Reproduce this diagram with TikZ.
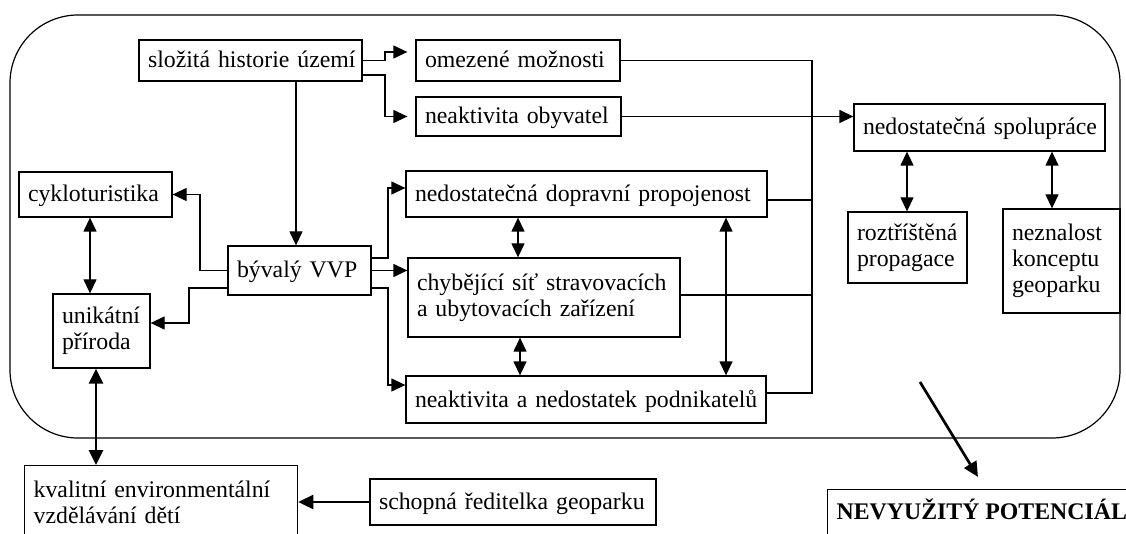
\documentclass[tikz,border=0pt]{standalone}
\usepackage{fontspec}
\setmainfont{Liberation Serif}
\usetikzlibrary{arrows.meta}
\tikzset{
  bbox/.style={draw,line width=1.3pt,inner xsep=9pt,align=left,
    font=\fontsize{23.8pt}{26pt}\selectfont},
  one/.style={text height=20pt,text depth=5pt},
  ln/.style={line width=1.3pt},
  arr/.style={ln,-{Triangle[length=14pt,width=13pt]}},
  darr/.style={ln,{Triangle[length=14pt,width=13pt]}-{Triangle[length=14pt,width=13pt]}},
  tarr/.style={line width=2.7pt,-{Triangle[length=15pt,width=14pt]}},
  tdarr/.style={line width=2.7pt,{Triangle[length=15pt,width=14pt]}-{Triangle[length=15pt,width=14pt]}},
}
\newcommand\bx[7][]{%
  \pgfmathsetmacro\bxw{#5-#3-18}%
  \pgfmathsetmacro\bxh{#6-#4}%
  \node[bbox,text width=\bxw pt,minimum height=\bxh pt,#1] (#2) at ({(#3+#5)/2},{(#4+#6)/2}) {#7};}
\begin{document}
\begin{tikzpicture}[x=1pt,y=-1pt]
\useasboundingbox (0,0) rectangle (1126,534);
\draw[line width=1.2pt,rounded corners=68pt] (10,15) rectangle (1120,438);

\bx[one]{sl}{139}{40}{362}{81}{\mbox{složitá historie území}}
\bx[one]{omez}{416}{40}{620}{81}{\mbox{omezené možnosti}}
\bx[one]{obyv}{416}{97}{621}{136}{\mbox{neaktivita obyvatel}}
\bx[one]{cyk}{19}{172}{172}{217}{\mbox{cykloturistika}}
\bx[one]{vvp}{228}{246}{371}{295}{\mbox{bývalý VVP}}
\bx{uni}{53}{294}{150}{368}{\mbox{unikátní}\\\mbox{příroda}}
\bx[one]{dopr}{406}{171}{767}{217}{\mbox{nedostatečná dopravní propojenost}}
\bx{chyb}{408}{258}{680}{337}{\mbox{chybějící síť stravovacích}\\\mbox{a ubytovacích zařízení}}
\bx[one]{podn}{406}{376}{766}{423}{\mbox{neaktivita a nedostatek podnikatelů}}
\bx[one]{spol}{854}{104}{1105}{151}{\mbox{nedostatečná spolupráce}}
\bx{rozt}{848}{212}{967}{283}{\mbox{roztříštěná}\\\mbox{propagace}}
\bx{nezn}{1003}{209}{1120}{313}{\mbox{neznalost}\\\mbox{konceptu}\\\mbox{geoparku}}
\bx[one]{schop}{370}{479}{656}{525}{\mbox{schopná ředitelka geoparku}}
\node[bbox,anchor=north west,text width=255pt,inner ysep=15.6pt] (kval) at (24,465)
  {\mbox{kvalitní environmentální}\\\mbox{vzdělávání dětí}};
\node[bbox,anchor=north west,text height=20pt,text depth=20pt,inner ysep=10pt,
  font=\fontsize{23.8pt}{26pt}\selectfont\bfseries] (nev) at (827,489) {NEVYUŽITÝ POTENCIÁL};

\coordinate (xa) at (90,0);
\coordinate (xb) at (96,0);
\coordinate (xv) at (296,0);
\coordinate (xc) at (518,0);
\coordinate (xd) at (520,0);
\coordinate (xe) at (726,0);
\coordinate (xr) at (812,0);
\coordinate (xf) at (907,0);
\coordinate (xg) at (1052,0);
\coordinate (d1) at (920,382);
\coordinate (d2) at (978,477);

\draw[arr] (sl.south -| xv) -- (vvp.north -| xv);
\draw[arr,shorten >=8pt] (sl.east) -- (385,60.5) |- ([yshift=8.5pt]omez.west);
\draw[arr,shorten >=8pt] ([yshift=-14.5pt]sl.east) -- (385,75) |- (obyv.west);
\draw[arr] (vvp.west) -- (200,270.5) |- (cyk.east);
\draw[arr] ([yshift=-17.5pt]vvp.west) -- (189,288) |- ([yshift=8pt]uni.east);
\draw[darr] (cyk.south -| xa) -- (uni.north -| xa);
\draw[tdarr] (uni.south -| xb) -- (kval.north -| xb);
\draw[tarr] (schop.west) -- (schop.west -| kval.east);
\draw[arr] ([yshift=12.5pt]vvp.east) -- (388,258) |- ([yshift=6pt]dopr.west);
\draw[arr] (vvp.east) -- (vvp.east -| chyb.west);
\draw[arr] ([yshift=-17.5pt]vvp.east) -- (388,288) |- ([yshift=14.5pt]podn.west);
\draw[darr] (dopr.south -| xc) -- (chyb.north -| xc);
\draw[darr] (chyb.south -| xd) -- (podn.north -| xd);
\draw[darr] (dopr.south -| xe) -- (podn.north -| xe);

\coordinate (pe) at ([yshift=6.5pt]podn.east);
\draw[ln] (omez.east) -| (pe -| xr) -- (pe);
\draw[ln] ([yshift=-6pt]dopr.east) coordinate (de) -- (de -| xr);
\draw[ln] ([yshift=2.5pt]chyb.east) coordinate (ce) -- (ce -| xr);
\draw[arr] (obyv.east) -- (obyv.east -| spol.west);
\draw[darr] (spol.south -| xf) -- (rozt.north -| xf);
\draw[darr] (spol.south -| xg) -- (nezn.north -| xg);
\draw[tarr] (d1) -- (d2);
\end{tikzpicture}
\end{document}
